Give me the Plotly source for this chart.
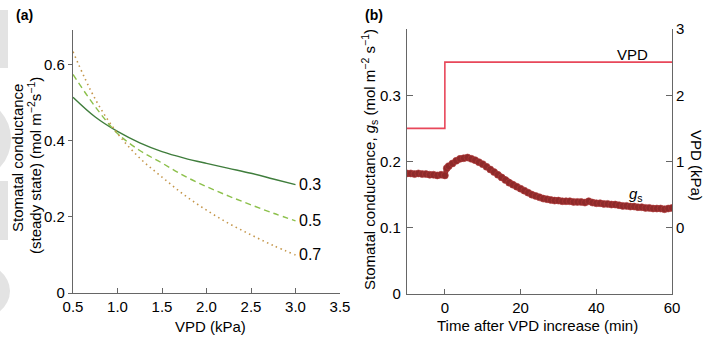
import plotly.graph_objects as go

# ---------- Data: panel (a) ----------
vpd_a = [0.5, 0.75, 1.0, 1.25, 1.5, 1.75, 2.0, 2.25, 2.5, 2.75, 3.0]
gs_03 = [0.515, 0.463, 0.425, 0.395, 0.372, 0.355, 0.341, 0.328, 0.315, 0.300, 0.285]
gs_05 = [0.575, 0.490, 0.420, 0.375, 0.342, 0.308, 0.280, 0.255, 0.232, 0.210, 0.190]
gs_07 = [0.635, 0.510, 0.420, 0.355, 0.305, 0.258, 0.218, 0.183, 0.153, 0.125, 0.100]
series_names = ["0.3", "0.5", "0.7"]

# ---------- Data: panel (b) ----------
time_b = [-10, -9, -8, -7, -6, -5, -4, -3, -2, -1, 0,
          0.5, 1, 2, 3, 4, 5, 6, 7, 8, 9, 10,
          11, 12, 13, 14, 15, 16, 17, 18, 19, 20,
          21, 22, 23, 24, 25, 26, 27, 28, 29, 30,
          31, 32, 33, 34, 35, 36, 37, 38, 39, 40,
          41, 42, 43, 44, 45, 46, 47, 48, 49, 50,
          51, 52, 53, 54, 55, 56, 57, 58, 59, 60]
gs_b = [0.182, 0.182, 0.181, 0.182, 0.181, 0.181, 0.180, 0.180, 0.179, 0.180, 0.179,
        0.190, 0.193, 0.197, 0.201, 0.204, 0.205, 0.206, 0.204, 0.202, 0.199, 0.196,
        0.192, 0.188, 0.184, 0.180, 0.176, 0.172, 0.168, 0.165, 0.162, 0.159,
        0.156, 0.153, 0.150, 0.148, 0.146, 0.144, 0.143, 0.142, 0.141, 0.141,
        0.140, 0.140, 0.140, 0.139, 0.139, 0.139, 0.138, 0.140, 0.138, 0.137,
        0.137, 0.136, 0.136, 0.135, 0.135, 0.134, 0.133, 0.133, 0.132, 0.132,
        0.131, 0.131, 0.130, 0.130, 0.129, 0.129, 0.129, 0.128, 0.129, 0.130]
vpd_time = [-10, 0, 60]
vpd_b = [1.5, 2.5, 2.5]

xticks_a = [0.5, 1.0, 1.5, 2.0, 2.5, 3.0, 3.5]
yticks_a = [0, 0.2, 0.4, 0.6]
xticks_b = [0, 20, 40, 60]
yticks_b = [0, 0.1, 0.2, 0.3]
yticks_b2 = [0, 1, 2, 3]

FONT = "Arial, Liberation Sans, sans-serif"
AX = "#666666"

fig = go.Figure()

styles = [dict(color="#3f7d3c", width=1.4, dash="solid"),
          dict(color="#8cc04b", width=1.4, dash="6px,4px"),
          dict(color="#c4964a", width=1.6, dash="1.5px,3.5px")]
for name, ys, st in zip(series_names, [gs_03, gs_05, gs_07], styles):
    fig.add_trace(go.Scatter(x=vpd_a, y=ys, mode="lines", line=dict(shape="spline", **st),
                             xaxis="x", yaxis="y", showlegend=False))
    fig.add_annotation(x=vpd_a[-1], y=ys[-1], xref="x", yref="y", text=name, showarrow=False,
                       xanchor="left", yanchor="middle", xshift=1,
                       font=dict(size=16, color="black", family=FONT))

# panel b
fig.add_trace(go.Scatter(x=vpd_time, y=vpd_b, mode="lines", line=dict(color="#e8475a", width=1.6, shape="hv"),
                         xaxis="x2", yaxis="y3", showlegend=False))
fig.add_trace(go.Scatter(x=time_b, y=gs_b, mode="lines+markers",
                         line=dict(color="#8e2a2a", width=5),
                         marker=dict(color="#8e2a2a", size=7, line=dict(width=0.6, color="#b33a3a")),
                         xaxis="x2", yaxis="y2", showlegend=False))

tickfont = dict(size=15, color="black", family=FONT)
common = dict(showline=True, linecolor=AX, linewidth=1.2, tickcolor=AX, tickwidth=1.2,
              showgrid=False, zeroline=False, tickfont=tickfont, automargin=False)

fig.update_layout(
    template="none",
    width=708, height=341, margin=dict(l=0, r=0, t=0, b=0, pad=0), autosize=False,
    paper_bgcolor="white", plot_bgcolor="white",
    font=dict(family=FONT, color="black"),
    xaxis=dict(domain=[73/708, 340/708], range=[0.5, 3.5], tickvals=xticks_a,
               ticktext=[f"{v:.1f}" for v in xticks_a], ticks="inside", ticklen=5,
               anchor="y", **common),
    yaxis=dict(domain=[1-293/341, 1-30/341], range=[0, 0.692], tickvals=yticks_a,
               ticktext=["0", "0.2", "0.4", "0.6"], ticks="outside", ticklen=4,
               ticklabelstandoff=0, anchor="x", **common),
    xaxis2=dict(domain=[407/708, 672/708], range=[-10, 60], tickvals=xticks_b,
                ticks="inside", ticklen=5, anchor="y2", **common),
    yaxis2=dict(domain=[1-294/341, 1-29/341], range=[0, 0.4], tickvals=yticks_b,
                ticktext=["0", "0.1", "0.2", "0.3"], ticks="inside", ticklen=6,
                ticklabelstandoff=2, anchor="x2", **common),
    yaxis3=dict(domain=[1-294/341, 1-29/341], range=[-1, 3], tickvals=yticks_b2,
                ticks="inside", ticklen=6, side="right", overlaying="y2", anchor="x2",
                ticklabelstandoff=0, **common),
)

tf = dict(size=15, color="black", family=FONT)
ann = [
    dict(x=24/708, y=1-15/341, text="<b>(a)</b>", font=dict(size=14, color="black", family=FONT)),
    dict(x=374/708, y=1-15/341, text="<b>(b)</b>", font=dict(size=14, color="black", family=FONT)),
    dict(x=17/708, y=1-158/341, text="Stomatal conductance", textangle=-90, font=tf),
    dict(x=34/708, y=1-166/341, text="(steady state) (mol m<sup>−2</sup>s<sup>−1</sup>)",
         textangle=-90, font=tf),
    dict(x=210/708, y=1-326/341, text="VPD (kPa)", font=tf),
    dict(x=369/708, y=1-160/341, text="Stomatal conductance, <i>g</i><sub>s</sub> (mol m<sup>−2</sup> s<sup>−1</sup>)",
         textangle=-90, font=tf),
    dict(x=537/708, y=1-325/341, text="Time after VPD increase (min)", font=tf),
    dict(x=697/708, y=1-165/341, text="VPD (kPa)", textangle=90, font=tf),
]
for a in ann:
    fig.add_annotation(xref="paper", yref="paper", showarrow=False, xanchor="center", yanchor="middle", **a)

fig.add_annotation(x=49.5, y=2.62, xref="x2", yref="y3", text="VPD", showarrow=False, font=tf)
fig.add_annotation(x=50.5, y=0.150, xref="x2", yref="y2", text="<i>g</i><sub>s</sub>", showarrow=False, font=tf)

# faint grey page fragments on the left edge
G = "#e3e3e3"
fig.add_shape(type="rect", xref="paper", yref="paper", x0=0, x1=8/708, y0=1-68/341, y1=1-10/341,
              fillcolor=G, line_width=0, layer="below")
fig.add_shape(type="circle", xref="paper", yref="paper", x0=-60/708, x1=11/708, y0=1-178/341, y1=1-100/341,
              fillcolor=G, line_width=0, layer="below")
fig.add_shape(type="rect", xref="paper", yref="paper", x0=0, x1=8/708, y0=1-240/341, y1=1-181/341,
              fillcolor=G, line_width=0, layer="below")
fig.add_shape(type="circle", xref="paper", yref="paper", x0=-60/708, x1=10/708, y0=1-320/341, y1=1-262/341,
              fillcolor=G, line_width=0, layer="below")

fig.write_html("out.html", config={"displayModeBar": False},
               post_script="document.body.style.margin='0';document.body.style.overflow='hidden';")
